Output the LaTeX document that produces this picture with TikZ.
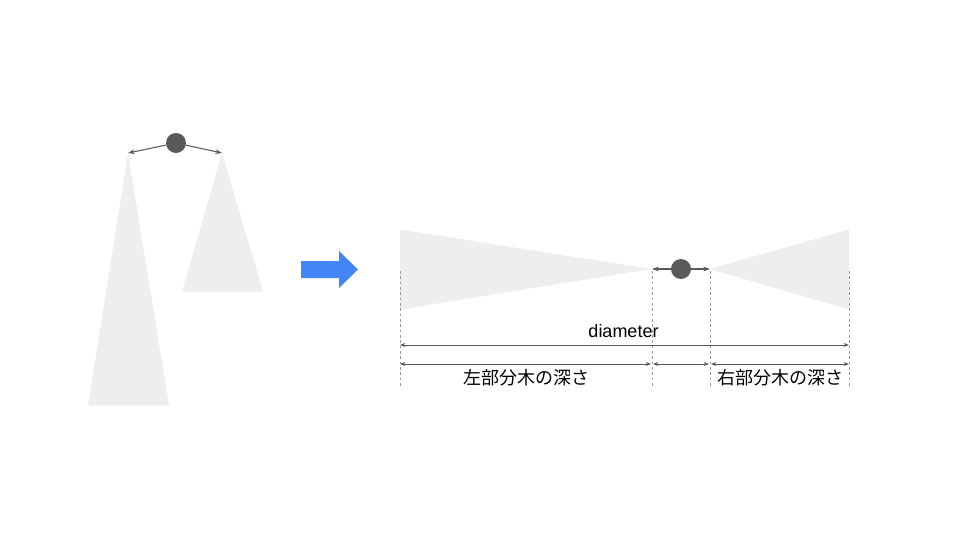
\documentclass[tikz,border=0pt]{standalone}
\usepackage{fontspec}
\setmainfont{Liberation Sans}
\newfontfamily\jpfont{Noto Sans CJK JP}
\usetikzlibrary{arrows.meta,shapes.arrows}
\definecolor{treegray}{HTML}{EEEEEE}
\definecolor{nodegray}{HTML}{595959}
\definecolor{dimgray}{HTML}{999999}
\definecolor{gblue}{HTML}{4285F4}
\tikzset{
  subtree/.style={fill=treegray,draw=none},
  vnode/.style={circle,fill=nodegray,draw=none,minimum size=20*0.75pt,inner sep=0pt},
  edgearrow/.style={draw=nodegray,line width=0.8pt,-{Stealth[length=5pt,width=3.5pt]}},
  dimarrow/.style={draw=nodegray,line width=0.6pt,{Stealth[length=4pt,width=3pt]}-{Stealth[length=4pt,width=3pt]}},
  guide/.style={draw=dimgray,line width=0.6pt,dashed,dash pattern=on 2pt off 2pt},
  lbl/.style={font=\fontsize{13.5pt}{16pt}\selectfont,text=black,inner sep=0pt},
}
\begin{document}
\begin{tikzpicture}[x=0.75pt,y=-0.75pt]
\useasboundingbox (0,0) rectangle (960,540);
% left: original tree
\fill[subtree] (128,153) -- (169,405.5) -- (88,405.5) -- cycle;
\fill[subtree] (222,153) -- (263,291.5) -- (182,291.5) -- cycle;
\node[vnode] (root) at (176,143) {};
\coordinate (la) at (128,153);
\coordinate (ra) at (222,153);
\draw[edgearrow] (root) -- (la);
\draw[edgearrow] (root) -- (ra);
% blue arrow
\fill[gblue] (301,261) -- (339,261) -- (339,251) -- (358,269.5) -- (339,288) -- (339,278) -- (301,278) -- cycle;
% right: flattened tree
\fill[subtree] (400,229.5) -- (651,269) -- (400,309.5) -- cycle;
\fill[subtree] (849,229.5) -- (710,269) -- (849,309.5) -- cycle;
\node[vnode] (c) at (681,269) {};
\coordinate (lt) at (652,269);
\coordinate (rt) at (710,269);
\draw[edgearrow] (c) -- (lt);
\draw[edgearrow] (c) -- (rt);
% guide lines
\coordinate (g1t) at (400,271); \coordinate (g1b) at (400,386);
\coordinate (g2t) at (652,271); \coordinate (g2b) at (652,386);
\coordinate (g3t) at (710,271); \coordinate (g3b) at (710,386);
\coordinate (g4t) at (849,271); \coordinate (g4b) at (849,386);
\draw[guide] (g1t) -- (g1b);
\draw[guide] (g2t) -- (g2b);
\draw[guide] (g3t) -- (g3b);
\draw[guide] (g4t) -- (g4b);
% dimension arrows
\coordinate (d1a) at (400,345); \coordinate (d1b) at (849,345);
\draw[dimarrow] (d1a) -- (d1b);
\coordinate (d2a) at (400,364); \coordinate (d2b) at (651,364);
\coordinate (d3a) at (653,364); \coordinate (d3b) at (709,364);
\coordinate (d4a) at (711,364); \coordinate (d4b) at (849,364);
\draw[dimarrow] (d2a) -- (d2b);
\draw[dimarrow] (d3a) -- (d3b);
\draw[dimarrow] (d4a) -- (d4b);
% labels
\node[lbl] (dia) at (623.5,331) {diameter};
\node[lbl,font=\jpfont\fontsize{13.5pt}{16pt}\selectfont] (ldep) at (526,378) {左部分木の深さ};
\node[lbl,font=\jpfont\fontsize{13.5pt}{16pt}\selectfont] (rdep) at (780,378) {右部分木の深さ};
\end{tikzpicture}
\end{document}
